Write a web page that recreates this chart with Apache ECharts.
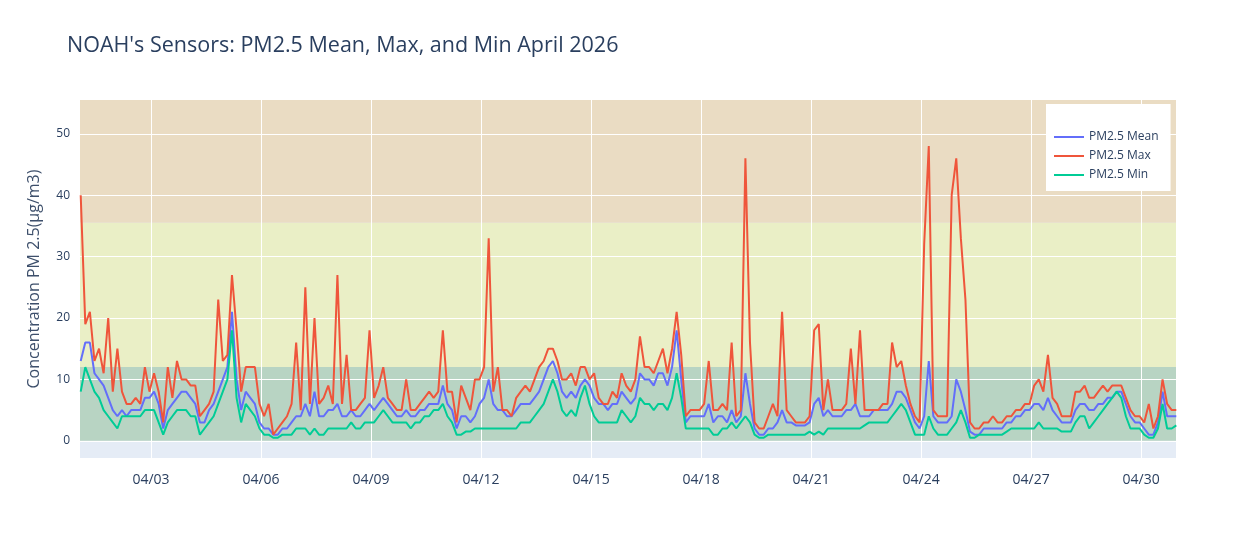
<!DOCTYPE html>
<html><head><meta charset="utf-8">
<script src="https://cdn.jsdelivr.net/npm/echarts@6/dist/echarts.min.js"></script>
<style>html,body{margin:0;padding:0;background:#fff}#c{width:1256px;height:538px}</style>
</head><body><div id="c"></div>
<script>
// 3-hourly readings from April 1 02:00 (8 per day)
const sampleStartHour = 2, sampleStepHours = 3;
const pmMean = [
13,16,16,11,10,9,7,5, 4,5,4,5,5,5,7,7, 8,6,2,5,6,7,8,8, 7,6,3,3,5,6,8,10,
12,21,10,5,8,7,6,3, 2,2,1,1,2,2,3,4, 4,6,4,8,4,4,5,5, 6,4,4,5,4,4,5,6,
5,6,7,6,5,4,4,5, 4,4,5,5,6,6,6,9, 6,5,2,4,4,3,4,6, 7,10,6,5,5,4,4,5,
6,6,6,7,8,10,12,13, 11,8,7,8,7,9,10,9, 7,6,6,5,6,6,8,7, 6,7,11,10,10,9,11,11,
9,12,18,10,3,4,4,4, 4,6,3,4,4,3,5,3, 4,11,6,2,1,1,2,2, 3,5,3,3,2.5,2.5,2.5,3,
6,7,4,5,4,4,4,5, 5,6,4,4,4,5,5,5, 5,6,8,8,7,5,3,2, 4,13,4,3,3,3,4,10,
8,5,1.5,1,1,2,2,2, 2,2,3,3,4,4,5,5, 6,6,5,7,5,4,3,3, 3,5,6,6,5,5,6,6,
7,7,8,8,6,4,3,3, 2,1,1,3,8,4,4,4];
const pmMax = [
40,19,21,13,15,11,20,8, 15,8,6,6,7,6,12,8, 11,8,3,12,7,13,10,10, 9,9,4,5,6,8,23,13,
14,27,18,8,12,12,12,6, 4,6,1,2,3,4,6,16, 5,25,6,20,6,7,9,6, 27,6,14,5,5,6,7,18,
7,9,12,7,6,5,5,10, 5,5,6,7,8,7,8,18, 8,8,3,9,7,5,10,10, 12,33,8,12,5,5,4,7,
8,9,8,10,12,13,15,15, 13,10,10,11,9,12,12,10, 11,7,6,6,8,7,11,9, 8,10,17,12,12,11,13,15,
11,15,21,14,4,5,5,5, 6,13,5,5,6,5,16,4, 5,46,16,3,2,2,4,6, 4,21,5,4,3,3,3,4,
18,19,5,10,5,5,5,6, 15,6,18,5,5,5,5,6, 6,16,12,13,9,6,4,3, 32,48,5,4,4,4,40,46,
33,23,3,2,2,3,3,4, 3,3,4,4,5,5,6,6, 9,10,8,14,7,6,4,4, 4,8,8,9,7,7,8,9,
8,9,9,9,7,5,4,4, 3,6,2,4,10,6,5,5];
const pmMin = [
8,12,10,8,7,5,4,3, 2,4,4,4,4,4,5,5, 5,3,1,3,4,5,5,5, 4,4,1,2,3,4,6,8,
10,18,7,3,6,5,4,2, 1,1,0.5,0.5,1,1,1,2, 2,2,1,2,1,1,2,2, 2,2,2,3,2,2,3,3,
3,4,5,4,3,3,3,3, 2,3,3,4,4,5,5,6, 4,3,1,1,1.5,1.5,2,2, 2,2,2,2,2,2,2,2,
3,3,3,4,5,6,8,10, 8,5,4,5,4,7,9,6, 4,3,3,3,3,3,5,4, 3,4,7,6,6,5,6,6,
5,7,11,7,2,2,2,2, 2,2,1,1,2,2,3,2, 3,4,3,1,0.5,0.5,1,1, 1,1,1,1,1,1,1,1.5,
1,1.5,1,2,2,2,2,2, 2,2,2,2.5,3,3,3,3, 3,4,5,6,5,3,1,1, 1,4,2,1,1,1,2,3,
5,3,0.5,0.5,1,1,1,1, 1,1,1.5,2,2,2,2,2, 2,3,2,2,2,2,1.5,1.5, 1.5,3,4,4,2,3,4,5,
6,7,8,7,4,2,2,2, 1,0.5,0.5,2,6,2,2,2.5];
const xTickDays = [3,6,9,12,15,18,21,24,27,30];
const yTicks = [0,10,20,30,40,50];
const seriesNames = ['PM2.5 Mean','PM2.5 Max','PM2.5 Min'];

// x = day of April (Apr N 00:00 = N)
function pts(arr){return arr.map((v,i)=>[1+(sampleStartHour+i*sampleStepHours)/24, v]);}
const txt='#2a3f5f', ff='"Open Sans", sans-serif';
const chart = echarts.init(document.getElementById('c'));
chart.setOption({
  animation:false,
  backgroundColor:'#fff',
  title:{text:"NOAH's Sensors: PM2.5 Mean, Max, and Min April 2026",left:62,top:30,
    textStyle:{fontFamily:ff,fontSize:21.5,fontWeight:'normal',color:txt}},
  legend:{z:20,left:1046,top:104,orient:'vertical',backgroundColor:'#fff',padding:[26,12,9,8],
    icon:'rect',itemGap:5,itemWidth:30,itemHeight:2,data:seriesNames,
    textStyle:{fontFamily:ff,fontSize:12,color:txt,lineHeight:14}},
  grid:{left:80,right:80,top:100,bottom:80,backgroundColor:'#e5ecf6',show:true,borderWidth:0},
  xAxis:{type:'value',min:1.064,max:30.95,
    axisLine:{show:false},splitLine:{show:false},
    axisTick:{show:true,customValues:xTickDays,length:0},
    axisLabel:{customValues:xTickDays,fontFamily:ff,fontSize:14,color:txt,margin:15,
      formatter:v=>'04/'+String(Math.round(v)).padStart(2,'0')}},
  yAxis:{type:'value',min:-2.8,max:55.5,
    name:'Concentration PM 2.5(µg/m3)',nameLocation:'middle',nameGap:38,
    nameTextStyle:{fontFamily:ff,fontSize:16,color:'#3d4f6b'},
    axisLine:{show:false},splitLine:{show:false},
    axisTick:{show:true,customValues:yTicks,length:0},
    axisLabel:{customValues:yTicks,fontFamily:ff,fontSize:12,color:txt,margin:10}},
  series:[
    {type:'line',data:pts(pmMean),silent:true,symbol:'none',lineStyle:{opacity:0},z:1,
     markArea:{silent:true,data:[
       [{yAxis:0,itemStyle:{color:'#b8d4c3'}},{yAxis:12}],
       [{yAxis:12,itemStyle:{color:'#eaefc6'}},{yAxis:35.5}],
       [{yAxis:35.5,itemStyle:{color:'#eadcc3'}},{yAxis:55.5}]]},
     markLine:{silent:true,symbol:'none',label:{show:false},
       lineStyle:{color:'#fff',width:1,type:'solid',opacity:1},
       data:yTicks.map(v=>({yAxis:v})).concat(xTickDays.map(v=>({xAxis:v})))}},
    {name:seriesNames[0],type:'line',data:pts(pmMean),symbol:'none',z:5,lineStyle:{width:2,color:'#636efa'},itemStyle:{color:'#636efa'}},
    {name:seriesNames[1],type:'line',data:pts(pmMax),symbol:'none',z:6,lineStyle:{width:2,color:'#EF553B'},itemStyle:{color:'#EF553B'}},
    {name:seriesNames[2],type:'line',data:pts(pmMin),symbol:'none',z:7,lineStyle:{width:2,color:'#00cc96'},itemStyle:{color:'#00cc96'}}
  ]
});
</script></body></html>
